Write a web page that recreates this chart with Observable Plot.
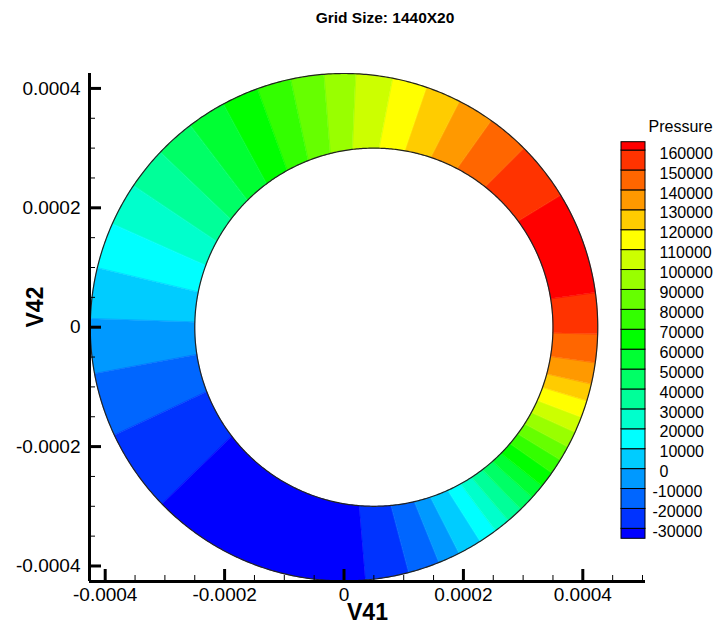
<!DOCTYPE html>
<html>
<head>
<meta charset="utf-8">
<script src="https://cdn.jsdelivr.net/npm/d3@7"></script>
<script src="https://cdn.jsdelivr.net/npm/@observablehq/plot@0.6"></script>
<style>
  html, body { margin: 0; padding: 0; background: #fff; }
  #wrap { position: relative; width: 715px; height: 631px; overflow: hidden; font-family: "Liberation Sans", Arial, sans-serif; }
  #title { position: absolute; left: 385px; top: 9px; transform: translateX(-50%); font-weight: bold; font-size: 15.5px; white-space: nowrap; color: #000; }
  #main { position: absolute; left: 0; top: 34px; }
  #legend { position: absolute; left: 600px; top: 110px; }
  svg { overflow: visible; }
</style>
</head>
<body>
<div id="wrap">
  <div id="title">Grid Size: 1440X20</div>
  <div id="main"></div>
  <div id="legend"></div>
</div>
<script>
// ---------- data ----------
const levels = [-30000, -20000, -10000, 0, 10000, 20000, 30000, 40000, 50000, 60000,
                70000, 80000, 90000, 100000, 110000, 120000, 130000, 140000, 150000, 160000];
const bandColors = ["#0000FF", "#0033FF", "#0066FF", "#0099FF", "#00CCFF", "#00FFFF", "#00FFCC",
                    "#00FF99", "#00FF66", "#00FF33", "#00FF00", "#33FF00", "#66FF00", "#99FF00",
                    "#CCFF00", "#FFFF00", "#FFCC00", "#FF9900", "#FF6600", "#FF3300", "#FF0000"];
// angular edges (degrees, about the bearing centre) where the pressure bands change
const sectorEdgeDeg = [-85.2, -75.2, -68.0, -63.0, -57.5, -53.3, -49.6, -45.8, -42.1, -38.7,
                       -35.0, -31.5, -28.1, -24.4, -20.7, -16.8, -12.9, -8.0, -1.5, 7.9,
                       31.4, 44.9, 54.6, 63.0, 71.1, 79.0, 87.4, 94.6, 102.2, 110.0,
                       118.4, 127.3, 136.4, 146.1, 156.0, 166.5, 178.1, 190.6, 205.2, 224.2, 274.8];
// pressure (within each band) of each sector between consecutive edges
const sectorPressure = [-25000, -15000, -5000, 5000, 15000, 25000, 35000, 45000, 55000, 65000,
                        75000, 85000, 95000, 105000, 115000, 125000, 135000, 145000, 155000, 165000,
                        155000, 145000, 135000, 125000, 115000, 105000, 95000, 85000, 75000, 65000,
                        55000, 45000, 35000, 25000, 15000, 5000, -5000, -15000, -25000, -35000];
const outerRadius = 0.000425;
const innerRadius = 0.0003;
const innerOffsetX = 0.00005;
const xMajorTicks = [-0.0004, -0.0002, 0, 0.0002, 0.0004];
const xMinorTicks = [-0.00035, -0.0003, -0.00025, -0.00015, -0.0001, -0.00005,
                     0.00005, 0.0001, 0.00015, 0.00025, 0.0003, 0.00035, 0.00045, 0.0005];
const yMajorTicks = [-0.0004, -0.0002, 0, 0.0002, 0.0004];
const yMinorTicks = [-0.00035, -0.0003, -0.00025, -0.00015, -0.0001, -0.00005,
                     0.00005, 0.0001, 0.00015, 0.00025, 0.0003, 0.00035];
const xDomain = [-0.0004263, 0.000505];
const yDomain = [-0.000426, 0.000425];
const legendExtent = [-35000, 164200];

// ---------- geometry built from the data ----------
const rad = Math.PI / 180;
function innerHit(a) {
  const c = Math.cos(a), s = Math.sin(a);
  const t = innerOffsetX * c + Math.sqrt(innerRadius * innerRadius - innerOffsetX * innerOffsetX * s * s);
  return [t * c, t * s];
}
const ringPoints = [];
sectorPressure.forEach((p, i) => {
  const a0 = sectorEdgeDeg[i], a1 = sectorEdgeDeg[i + 1];
  const n = Math.max(2, Math.ceil((a1 - a0) / 0.5));
  for (let k = 0; k <= n; k++) {
    const a = (a0 + (a1 - a0) * k / n) * rad;
    ringPoints.push({sector: i, p, x: outerRadius * Math.cos(a), y: outerRadius * Math.sin(a)});
  }
  for (let k = n; k >= 0; k--) {
    const a = (a0 + (a1 - a0) * k / n) * rad;
    const [x, y] = innerHit(a);
    ringPoints.push({sector: i, p, x, y});
  }
});
const outerCircle = d3.range(0, 360, 0.5).map(d => ({x: outerRadius * Math.cos(d * rad), y: outerRadius * Math.sin(d * rad)}));
const innerCircle = d3.range(0, 360, 0.5).map(d => ({x: innerOffsetX + innerRadius * Math.cos(d * rad), y: innerRadius * Math.sin(d * rad)}));

const fmt = d => d === 0 ? "0" : String(+d.toFixed(4));
const font = "Liberation Sans, Arial, sans-serif";

const main = Plot.plot({
  width: 715,
  height: 597,
  marginLeft: 89,
  marginRight: 70,
  marginTop: 39,
  marginBottom: 50,
  style: {fontFamily: font, background: "white", color: "black"},
  x: {domain: xDomain},
  y: {domain: yDomain},
  color: {type: "threshold", domain: levels, range: bandColors},
  marks: [
    Plot.line(ringPoints, {x: "x", y: "y", z: "sector", fill: "p", stroke: "p", strokeWidth: 0.6, curve: "linear-closed"}),
    Plot.line(outerCircle, {x: "x", y: "y", stroke: "#222", strokeWidth: 1.2, curve: "linear-closed"}),
    Plot.line(innerCircle, {x: "x", y: "y", stroke: "#222", strokeWidth: 1.2, curve: "linear-closed"}),
    Plot.axisX(xMinorTicks, {tickSize: -6, strokeWidth: 1, tickFormat: () => "", label: null}),
    Plot.axisY(yMinorTicks, {tickSize: -6, strokeWidth: 1, tickFormat: () => "", label: null}),
    Plot.axisX(xMajorTicks, {tickSize: -12, strokeWidth: 3, tickFormat: () => "", label: null}),
    Plot.axisY(yMajorTicks, {tickSize: -12, strokeWidth: 3, tickFormat: () => "", label: null}),
    Plot.axisX(xMajorTicks, {tickSize: 0, tickPadding: 6, fontSize: 19, tickFormat: fmt, label: null}),
    Plot.axisY(yMajorTicks, {tickSize: 0, tickPadding: 9, fontSize: 19, tickFormat: fmt, label: null}),
    Plot.ruleX([xDomain[0]], {stroke: "black", strokeWidth: 3}),
    Plot.ruleY([yDomain[0]], {stroke: "black", strokeWidth: 3}),
    Plot.text(["V41"], {frameAnchor: "bottom", dy: 38, fontSize: 23, fontWeight: "bold"}),
    Plot.text(["V42"], {frameAnchor: "left", dx: -54, rotate: -90, fontSize: 23, fontWeight: "bold"})
  ]
});
document.getElementById("main").appendChild(main);

// ---------- legend ----------
const legendBands = bandColors.map((c, i) => ({
  lo: i === 0 ? legendExtent[0] : levels[i - 1],
  hi: i === levels.length ? legendExtent[1] : levels[i],
  v: i === 0 ? levels[0] - 5000 : levels[i - 1] + 5000
}));
const legend = Plot.plot({
  width: 115,
  height: 440,
  marginLeft: 21,
  marginRight: 70,
  marginTop: 31.7,
  marginBottom: 11.7,
  style: {fontFamily: font, background: "transparent", color: "black", overflow: "visible"},
  x: {domain: [0, 1], axis: null},
  y: {domain: legendExtent, axis: null},
  color: {type: "threshold", domain: levels, range: bandColors},
  marks: [
    Plot.rect(legendBands, {x1: 0, x2: 1, y1: "lo", y2: "hi", fill: "v", stroke: "black", strokeWidth: 1}),
    Plot.text(levels.filter(d => d >= 0), {x: 1, y: d => d, text: d => String(d), dx: 14, dy: 3, textAnchor: "start", fontSize: 16}),
    Plot.text(levels.filter(d => d < 0), {x: 1, y: d => d, text: d => String(d), dx: 7, dy: 3, textAnchor: "start", fontSize: 16}),
    Plot.text(["Pressure"], {frameAnchor: "top-left", dx: 27, dy: -22, textAnchor: "start", fontSize: 16})
  ]
});
document.getElementById("legend").appendChild(legend);
</script>
</body>
</html>
